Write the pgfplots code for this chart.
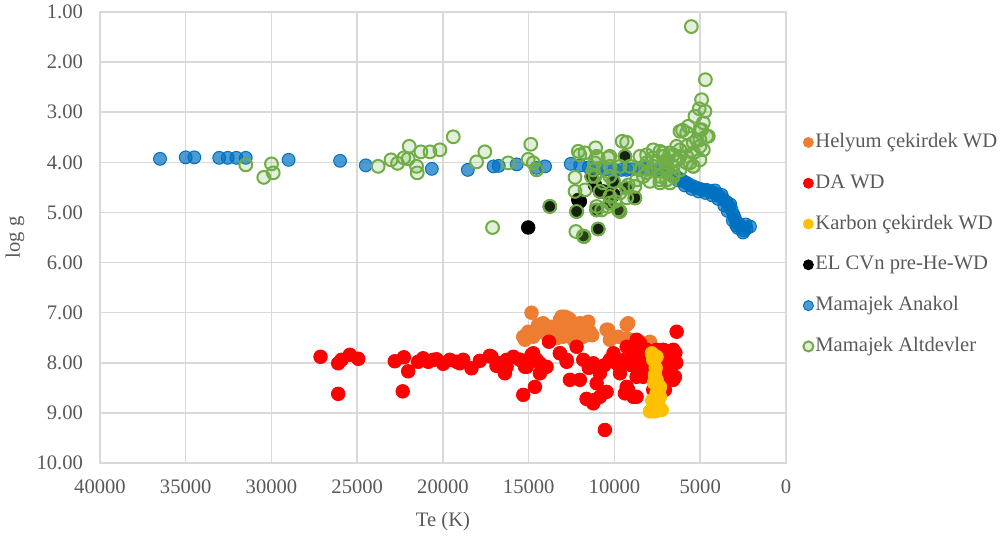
\documentclass[border=0pt]{standalone}
\usepackage{fontspec}
\setmainfont{Liberation Serif}
\usepackage{pgfplots}
\pgfplotsset{compat=1.18}

\definecolor{gridgray}{HTML}{D9D9D9}
\definecolor{txtgray}{HTML}{595959}
\definecolor{heorange}{HTML}{ED7D31}
\definecolor{dared}{HTML}{FF0000}
\definecolor{cyellow}{HTML}{FFC000}
\definecolor{msblue}{HTML}{0070C0}
\definecolor{sggreen}{HTML}{70AD47}

\begin{document}
\begin{tikzpicture}
\begin{axis}[
  scale only axis,
  width=343bp, height=225.5bp,
  xmin=0, xmax=40000, ymin=1, ymax=10,
  x dir=reverse, y dir=reverse,
  xtick={0,5000,...,40000},
  ytick={1,2,...,10},
  scaled x ticks=false,
  /pgf/number format/assume math mode=true,
  xticklabel style={/pgf/number format/1000 sep={}, yshift=-5bp},
  yticklabel style={/pgf/number format/fixed, /pgf/number format/fixed zerofill,
    /pgf/number format/precision=2, xshift=-5bp},
  major tick length=0pt,
  grid=major,
  grid style={gridgray, line width=0.75bp},
  axis line style={gridgray, line width=0.75bp},
  tick label style={txtgray},
  font=\fontsize{10.3bp}{12bp}\selectfont,
  xlabel={Te (K)},
  ylabel={log g},
  every axis x label/.style={at={(0.5,0)}, anchor=center, yshift=-29.5bp, txtgray},
  every axis y label/.style={at={(0,0.5)}, rotate=90, anchor=center, yshift=42.5bp, txtgray},
  legend style={at={(1,1)}, anchor=north west, xshift=8.5bp, yshift=-59bp,
    draw=none, fill=none, inner sep=0pt, row sep=8.4bp, column sep=0pt,
    text=txtgray,
    nodes={inner sep=1bp, text height=7.5bp, text depth=2.5bp},
    cells={anchor=west}},
  legend image code/.code={\draw[mark repeat=2,mark phase=2,#1,mark size=2.5bp]
     plot coordinates {(0bp,0bp)(4bp,0bp)(8bp,0bp)};},
]

% Helyum cekirdek WD
\addplot[only marks, mark=*, mark size=3.4bp, draw=heorange, fill=heorange] coordinates {
(14840,7.00) (14450,7.24) (14160,7.21) (15030,7.38) (15220,7.54) (14740,7.48)
(14060,7.41) (13670,7.28) (13180,7.14) (12890,7.08) (12600,7.14) (12310,7.34)
(12020,7.21) (11630,7.21) (11430,7.38) (11820,7.48) (12400,7.54) (12990,7.48)
(13380,7.51) (10460,7.34) (10270,7.54) (9780,7.48) (9290,7.24) (9100,7.54)
(8516,7.58) (7935,7.58) (15320,7.48) (13090,7.08) (12700,7.11) (11530,7.18)
(10370,7.34) (9200,7.21) (9290,7.51) (13900,7.35) (13500,7.40) (13000,7.30)
(12700,7.35) (12200,7.40) (11900,7.30) (14300,7.35) (14600,7.40) (11300,7.45)
(8900,7.55) (8200,7.62)
};
\addlegendentry{Helyum çekirdek WD}

% DA WD
\addplot[only marks, mark=*, mark size=3.4bp, draw=dared, fill=dared] coordinates {
(27140,7.88) (26110,8.01) (25920,7.94) (25430,7.84) (24940,7.92) (26110,8.62)
(22810,7.97) (22280,7.89) (22030,8.17) (22350,8.57) (21450,7.98) (21160,7.91)
(20860,7.98) (20570,7.94) (20370,7.93) (19990,8.02) (19600,7.94) (19210,7.98)
(19020,8.01) (18820,7.94) (18340,8.11) (17850,7.96) (17270,7.86) (17170,7.88)
(16880,8.06) (16290,7.94) (16390,8.21) (15900,7.88) (15510,7.94) (15120,8.08)
(15320,8.64) (14840,7.84) (14540,7.94) (14640,8.48) (14350,8.21) (13960,8.08)
(13820,7.58) (13180,7.81) (12790,7.94) (12600,8.34) (12210,7.68) (12020,8.34)
(11630,8.72) (11240,8.81) (10850,8.68) (10460,8.58) (10270,7.94) (9875,8.01)
(9680,8.21) (9290,7.68) (9200,8.54) (8900,7.74) (8710,7.54) (8516,8.01)
(8320,8.28) (8127,7.81) (7935,7.94) (7740,8.54) (7545,7.74) (7350,8.14)
(7160,7.74) (6960,7.88) (6766,8.01) (6570,7.74) (6475,8.28) (6376,7.38)
(10560,9.34) (9680,8.08) (8900,7.88) (8516,7.61) (8710,8.28) (9290,8.48)
(8710,8.68) (8127,7.74) (7740,8.08) (7350,8.41) (6960,8.08) (6570,7.81)
(6570,8.34) (11040,8.41) (11140,8.74) (16680,8.01) (16290,8.08) (15510,7.94)
(15220,8.08) (14740,7.81) (14350,8.01) (13180,7.81) (12790,7.98) (11820,7.94)
(11240,8.01) (10850,8.21) (10060,7.81) (7000,7.76) (6700,7.80) (6450,7.80)
(6400,8.00) (6500,7.95) (7100,8.20) (6800,8.25) (7060,8.54) (9390,8.61)
(8900,8.68) (9500,7.95) (9000,8.05) (8300,8.05) (10600,8.05) (11500,8.10)
};
\addlegendentry{DA WD}

% Karbon cekirdek WD
\addplot[only marks, mark=*, mark size=3.4bp, draw=cyellow, fill=cyellow] coordinates {
(7820,7.81) (7740,7.94) (7640,8.24) (7545,8.34) (7350,8.48) (7545,8.61)
(7350,8.68) (7450,8.81) (7740,8.94) (7250,8.94) (7935,8.97) (7640,8.97)
(7500,8.90) (7600,8.10) (7700,8.40) (7800,8.75) (7400,8.55) (7550,7.88)
};
\addlegendentry{Karbon çekirdek WD}

% EL CVn pre-He-WD
\addplot[only marks, mark=*, mark size=3.4bp, draw=black, fill=black] coordinates {
(12020,4.78) (15030,5.30) (13770,4.88) (12210,4.98) (11780,5.48) (10950,5.33)
(11330,4.28) (9390,3.88) (11040,4.95) (10270,4.81) (9680,4.98) (8810,4.71)
(10850,4.58) (9290,4.51) (10060,4.38) (12110,4.75) (10650,4.58) (10060,4.65)
(11140,4.45)
};
\addlegendentry{EL CVn pre-He-WD}

% Mamajek Anakol
\addplot[only marks, mark=*, mark size=3.2bp, mark options={draw=msblue, fill=msblue, fill opacity=0.7, line width=0.5bp}, draw=msblue, fill=msblue] coordinates {
(36500,3.93) (35000,3.90) (34500,3.90) (33050,3.91) (32550,3.91) (32050,3.91)
(31500,3.91) (29000,3.95) (26000,3.97) (24500,4.06) (20650,4.13) (18550,4.15)
(17050,4.08) (16750,4.07) (15700,4.04) (14550,4.11) (14050,4.08) (12550,4.03)
(12000,4.06) (11500,4.10) (11000,4.12) (10500,4.14) (10000,4.15) (9600,4.15)
(9300,4.15) (9000,4.14) (8500,4.11) (8100,4.13) (7550,4.15) (7200,4.18)
(6800,4.22) (6400,4.28) (6200,4.33) (6000,4.37) (5800,4.41) (5600,4.45)
(5400,4.48) (5200,4.51) (5000,4.53) (4800,4.55) (4620,4.55) (4450,4.57)
(4250,4.60) (4050,4.63) (3850,4.68) (3650,4.74) (3460,4.79) (3300,4.88)
(3170,4.95) (3050,5.05) (2980,5.12) (2850,5.20) (2700,5.25) (2600,5.30)
(2450,5.36) (2300,5.32) (2100,5.28)
(6300,4.36) (5900,4.46) (5500,4.53) (5100,4.58) (4700,4.61) (4300,4.66)
(3950,4.73) (3600,4.86) (3400,4.97) (3100,5.16) (2800,5.31) (2500,5.40)
(2350,5.24) (3250,4.84) (2900,5.26) (4150,4.56) (3750,4.65)
};
\addlegendentry{Mamajek Anakol}

% Mamajek Altdevler
\addplot[only marks, mark=*, mark size=3.2bp, mark options={draw=sggreen, fill=sggreen, fill opacity=0.2, line width=1bp}, draw=sggreen, fill=sggreen!20] coordinates {
(31500,4.05) (30450,4.30) (30000,4.03) (29900,4.21) (23780,4.08) (23030,3.95)
(22650,4.02) (22280,3.91) (21970,3.68) (22030,3.93) (21540,4.08) (21500,4.21)
(21290,3.79) (20760,3.79) (20180,3.75) (19400,3.49) (18040,3.99) (17560,3.79)
(16200,4.01) (17110,5.30) (14880,3.64) (15030,3.94) (14740,4.01) (14540,4.15)
(12110,3.78) (12020,3.85) (11720,3.81) (11100,3.71) (11040,3.88) (10950,3.91)
(10370,3.91) (10270,3.88) (9550,3.58) (9290,3.60)
(12300,4.30) (12300,4.58) (11720,4.55) (12250,5.38) (11820,5.47)
(11240,4.15) (11140,4.28) (10650,4.41) (10270,4.28) (11040,4.88) (10750,4.95)
(10270,4.68) (9975,4.78) (9680,4.61) (9290,4.71) (10370,4.88) (9780,4.95)
(9200,4.45) (8810,4.48)
(8516,3.88) (8127,3.85) (7740,3.91) (7350,3.78) (6960,3.95) (6570,3.85)
(6183,3.75) (5790,3.68) (5405,3.61) (5020,3.55) (4626,3.48) (5020,3.35)
(8516,4.15) (8127,4.21) (7740,4.08) (7350,4.28) (6960,4.15) (6570,4.08)
(6183,4.15) (5790,4.01) (5405,4.08) (5020,3.95)
(7350,4.41) (6960,4.35) (6570,4.28) (8710,4.35) (8320,4.28) (7935,4.38)
(8127,4.01) (7545,4.01) (6960,4.01) (6376,3.95) (5790,3.88) (5405,3.81) (4820,3.75)
(11140,4.01) (10270,4.08) (9680,4.08) (9100,4.08)
(7740,3.75) (7160,3.81) (6183,3.38) (5792,3.41) (5520,1.29) (4700,2.35)
(4920,2.75) (5060,2.93) (4725,2.98) (5310,3.08) (4820,3.21) (4920,3.35)
(4530,3.48) (6030,3.36) (5700,3.28) (5210,3.55) (5020,3.68) (5405,3.81)
(6376,3.68) (6766,3.81) (7160,3.88) (6183,3.88) (5600,4.01) (5405,4.08)
(6960,4.08) (6570,4.21) (7350,4.35) (6766,4.41)
(13770,4.88) (12210,4.98) (11780,5.48) (10950,5.33) (11330,4.28) (9390,3.88)
(11040,4.95) (10270,4.81) (9680,4.98) (8810,4.71) (10850,4.58) (9290,4.51)
(10060,4.38)
};
\addlegendentry{Mamajek Altdevler}

\end{axis}
\pgfresetboundingbox
\path[use as bounding box] (-50bp,-40bp) rectangle (450bp,231.5bp);
\end{tikzpicture}
\end{document}
